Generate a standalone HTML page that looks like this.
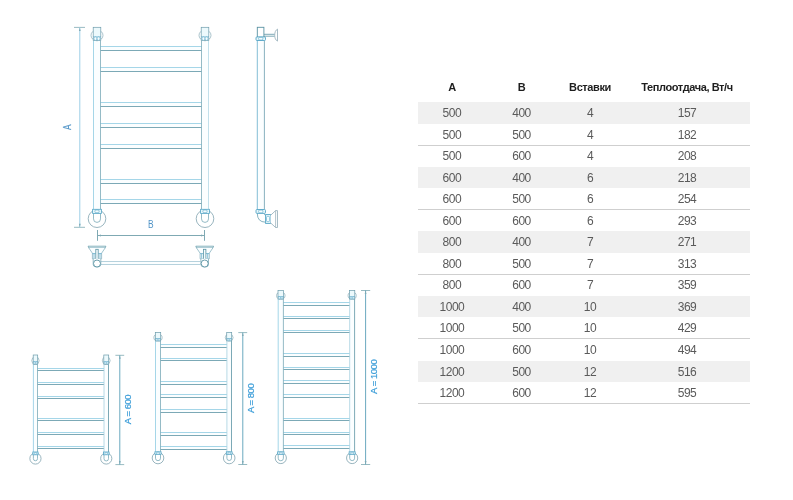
<!DOCTYPE html>
<html lang="ru">
<head>
<meta charset="utf-8">
<title>Размеры</title>
<style>
html,body{margin:0;padding:0;background:#fff;}
body{width:793px;height:500px;position:relative;overflow:hidden;font-family:"Liberation Sans",sans-serif;}
svg{position:absolute;left:0;top:0;will-change:transform;}
svg text{font-family:"Liberation Sans",sans-serif;}
.tb{position:absolute;left:418px;top:0;width:332px;height:500px;will-change:transform;}
.h{position:absolute;left:0;top:78px;width:332px;height:18px;line-height:18px;font-weight:bold;font-size:11px;color:#1e1e1e;letter-spacing:-0.4px;}
.r{position:absolute;left:0;width:332px;height:21.525px;line-height:21.525px;font-size:12px;color:#5a5a5a;letter-spacing:-0.45px;}
.g{background:#f0f0f0;}
.ln{position:absolute;left:0;width:332px;height:1px;background:#cfcfcf;}
.h span,.r span{position:absolute;top:0;text-align:center;white-space:nowrap;}
.r span{top:1px;}
.c1{left:-0.6px;width:69px;}
.c2{left:69px;width:69px;}
.c3{left:138px;width:68px;}
.c4{left:205.5px;width:127px;}
</style>
</head>
<body>
<svg width="793" height="500" viewBox="0 0 793 500">
<rect x="93.5" y="40.5" width="7" height="168.8" fill="#fbfeff" stroke="none"/>
<rect x="201.5" y="40.5" width="7" height="168.8" fill="#fbfeff" stroke="none"/>
<rect x="100.5" y="46.5" width="101" height="4" fill="#fbfeff" stroke="none"/>
<path d="M100.5 46.5 H201.5" stroke="#8ecbe2" stroke-width="0.8" fill="none"/>
<path d="M100.5 50.5 H201.5" stroke="#5a93a3" stroke-width="0.8" fill="none"/>
<rect x="100.5" y="67.5" width="101" height="4" fill="#fbfeff" stroke="none"/>
<path d="M100.5 67.5 H201.5" stroke="#8ecbe2" stroke-width="0.8" fill="none"/>
<path d="M100.5 71.5 H201.5" stroke="#5a93a3" stroke-width="0.8" fill="none"/>
<rect x="100.5" y="102.5" width="101" height="4" fill="#fbfeff" stroke="none"/>
<path d="M100.5 102.5 H201.5" stroke="#8ecbe2" stroke-width="0.8" fill="none"/>
<path d="M100.5 106.5 H201.5" stroke="#5a93a3" stroke-width="0.8" fill="none"/>
<rect x="100.5" y="123.5" width="101" height="4" fill="#fbfeff" stroke="none"/>
<path d="M100.5 123.5 H201.5" stroke="#8ecbe2" stroke-width="0.8" fill="none"/>
<path d="M100.5 127.5 H201.5" stroke="#5a93a3" stroke-width="0.8" fill="none"/>
<rect x="100.5" y="144.5" width="101" height="4" fill="#fbfeff" stroke="none"/>
<path d="M100.5 144.5 H201.5" stroke="#8ecbe2" stroke-width="0.8" fill="none"/>
<path d="M100.5 148.5 H201.5" stroke="#5a93a3" stroke-width="0.8" fill="none"/>
<rect x="100.5" y="179.5" width="101" height="4" fill="#fbfeff" stroke="none"/>
<path d="M100.5 179.5 H201.5" stroke="#8ecbe2" stroke-width="0.8" fill="none"/>
<path d="M100.5 183.5 H201.5" stroke="#5a93a3" stroke-width="0.8" fill="none"/>
<rect x="100.5" y="199.5" width="101" height="4" fill="#fbfeff" stroke="none"/>
<path d="M100.5 199.5 H201.5" stroke="#8ecbe2" stroke-width="0.8" fill="none"/>
<path d="M100.5 203.5 H201.5" stroke="#5a93a3" stroke-width="0.8" fill="none"/>
<path d="M93.5 40.5 V209.3" stroke="#8ecbe2" stroke-width="0.8" fill="none"/>
<path d="M100.5 40.5 V209.3" stroke="#7aa9b8" stroke-width="0.8" fill="none"/>
<path d="M201.5 40.5 V209.3" stroke="#7aa9b8" stroke-width="0.8" fill="none"/>
<path d="M208.5 40.5 V209.3" stroke="#b3d8e6" stroke-width="0.8" fill="none"/>
<ellipse cx="97" cy="35.35" rx="6" ry="5.41" fill="#fff" stroke="#86aab6" stroke-width="0.7"/>
<rect x="93.2" y="27.3" width="7.6" height="13.2" fill="#ecf9fc" stroke="#6d9cab" stroke-width="0.7"/>
<path d="M93 36.8 H101" fill="none" stroke="#55a5c6" stroke-width="0.6"/>
<ellipse cx="95.39" cy="38.65" rx="1.4" ry="1.75" fill="#f6fdff" stroke="#55a5c6" stroke-width="0.5"/>
<ellipse cx="98.61" cy="38.65" rx="1.4" ry="1.75" fill="#f6fdff" stroke="#55a5c6" stroke-width="0.5"/>
<ellipse cx="205" cy="35.35" rx="6" ry="5.41" fill="#fff" stroke="#86aab6" stroke-width="0.7"/>
<rect x="201.2" y="27.3" width="7.6" height="13.2" fill="#ecf9fc" stroke="#6d9cab" stroke-width="0.7"/>
<path d="M201 36.8 H209" fill="none" stroke="#55a5c6" stroke-width="0.6"/>
<ellipse cx="203.39" cy="38.65" rx="1.4" ry="1.75" fill="#f6fdff" stroke="#55a5c6" stroke-width="0.5"/>
<ellipse cx="206.61" cy="38.65" rx="1.4" ry="1.75" fill="#f6fdff" stroke="#55a5c6" stroke-width="0.5"/>
<circle cx="97" cy="218.7" r="8.8" fill="none" stroke="#86a8b4" stroke-width="0.85"/>
<path d="M93.5 213.4 V218.9 A3.5 3.5 0 0 0 100.5 218.9 V213.4" fill="#fff" stroke="#7aa9b8" stroke-width="0.8"/>
<rect x="92.6" y="209.3" width="8.8" height="4.1" fill="#e6f7fc" stroke="#55a5c6" stroke-width="0.8"/>
<rect x="94.9" y="210" width="4.2" height="2.7" rx="1" fill="#f4fcfe" stroke="#55a5c6" stroke-width="0.6"/>
<circle cx="205" cy="218.7" r="8.8" fill="none" stroke="#86a8b4" stroke-width="0.85"/>
<path d="M201.5 213.4 V218.9 A3.5 3.5 0 0 0 208.5 218.9 V213.4" fill="#fff" stroke="#7aa9b8" stroke-width="0.8"/>
<rect x="200.6" y="209.3" width="8.8" height="4.1" fill="#e6f7fc" stroke="#55a5c6" stroke-width="0.8"/>
<rect x="202.9" y="210" width="4.2" height="2.7" rx="1" fill="#f4fcfe" stroke="#55a5c6" stroke-width="0.6"/>
<path d="M74 27.4 H85 M74 227.3 H85" stroke="#7fa9b3" stroke-width="0.8" fill="none"/>
<path d="M79.8 27.4 V227.3" stroke="#93cbe4" stroke-width="0.9" fill="none"/>
<path d="M79.8 27.7 l-0.9 3.2 h1.8z M79.8 227 l-0.9 -3.2 h1.8z" fill="#7fa9b3" stroke="none"/>
<text transform="translate(71 127.1) rotate(-90) scale(0.82 1)" text-anchor="middle" font-size="10.3" letter-spacing="0" fill="#4f93c6" stroke="#4f93c6" stroke-width="0.2">A</text>
<path d="M97.5 230 V240.8 M204.5 230 V240.8" stroke="#7fa9b3" stroke-width="1" fill="none"/>
<path d="M97.5 235.5 H204.5" stroke="#7fa9b3" stroke-width="1" fill="none"/>
<path d="M97.8 235.5 l3.2 -0.9 v1.8z M204.2 235.5 l-3.2 -0.9 v1.8z" fill="#7fa9b3"/>
<text transform="translate(150.7 228.2) scale(0.82 1)" text-anchor="middle" font-size="10.3" fill="#4f93c6">B</text>
<rect x="100.8" y="261.5" width="100" height="3" fill="#fbfeff" stroke="none"/>
<path d="M100.8 261.5 H200.6 M100.8 264.5 H200.6" stroke="#a3c7d4" stroke-width="0.8" fill="none"/>
<path d="M88.1 246.2 H105.9 L105.2 247.9 H88.8 Z" fill="#f0fafd" stroke="#5a93a3" stroke-width="0.7"/>
<path d="M88.8 247.9 L92.4 253.2 V258.8 H101.6 V253.2 L105.2 247.9" fill="#fbfeff" stroke="#7aa9b8" stroke-width="0.7"/>
<path d="M92.4 253.6 H95.7 M98.3 253.6 H101.6 M94 253.6 V258.8 M100 253.6 V258.8" fill="none" stroke="#55a5c6" stroke-width="0.7"/>
<rect x="95.8" y="249.3" width="2.4" height="10.8" fill="#f4fcfe" stroke="#5a93a3" stroke-width="0.8"/>
<path d="M93.2 258.8 V264.5 Q93.4 266.8 95.5 266.8 H98.5 Q100.6 266.8 100.8 264.5 V258.8" fill="#fbfeff" stroke="#7aa9b8" stroke-width="0.8"/>
<circle cx="97" cy="263.5" r="3.5" fill="#fff" stroke="#5a93a3" stroke-width="0.9"/>
<path d="M195.8 246.2 H213.6 L212.9 247.9 H196.5 Z" fill="#f0fafd" stroke="#5a93a3" stroke-width="0.7"/>
<path d="M196.5 247.9 L200.1 253.2 V258.8 H209.3 V253.2 L212.9 247.9" fill="#fbfeff" stroke="#7aa9b8" stroke-width="0.7"/>
<path d="M200.1 253.6 H203.4 M206 253.6 H209.3 M201.7 253.6 V258.8 M207.7 253.6 V258.8" fill="none" stroke="#55a5c6" stroke-width="0.7"/>
<rect x="203.5" y="249.3" width="2.4" height="10.8" fill="#f4fcfe" stroke="#5a93a3" stroke-width="0.8"/>
<path d="M200.9 258.8 V264.5 Q201.1 266.8 203.2 266.8 H206.2 Q208.3 266.8 208.5 264.5 V258.8" fill="#fbfeff" stroke="#7aa9b8" stroke-width="0.8"/>
<circle cx="204.7" cy="263.5" r="3.5" fill="#fff" stroke="#5a93a3" stroke-width="0.9"/>
<rect x="257.3" y="40.5" width="7.1" height="169" fill="#fbfeff" stroke="none"/>
<path d="M257.3 40.5 V209.5" stroke="#55a5c6" stroke-width="0.9" fill="none" opacity="0.8"/>
<path d="M264.4 40.5 V209.5" stroke="#7aa9b8" stroke-width="0.9" fill="none"/>
<rect x="257.3" y="27.3" width="6.6" height="10" fill="#fff" stroke="#5a93a3" stroke-width="0.9"/>
<rect x="256" y="36.9" width="9.5" height="3.6" rx="1" fill="#e6f7fb" stroke="#55a5c6" stroke-width="0.9"/>
<rect x="258.6" y="37.4" width="4.3" height="2.6" rx="1" fill="#f6fdff" stroke="#55a5c6" stroke-width="0.6"/>
<path d="M264 34.3 H274.8 M264 36.2 H274.8" stroke="#5a93a3" stroke-width="0.8" fill="none"/>
<path d="M277.5 29.1 C275.6 30 274.7 32.5 274.7 35.2 C274.7 38 275.6 40.3 277.5 41.1 Z" fill="#fff" stroke="#9db4be" stroke-width="0.9"/>
<path d="M257.3 213.4 Q257.3 222 265.5 222.2 M264.4 213.4 Q264.4 215.2 265.6 215.4" fill="none" stroke="#7aa9b8" stroke-width="0.9"/>
<rect x="256" y="209.5" width="9.5" height="3.9" rx="1" fill="#e6f7fb" stroke="#55a5c6" stroke-width="0.9"/>
<rect x="258.6" y="210.1" width="4.3" height="2.7" rx="1" fill="#f6fdff" stroke="#55a5c6" stroke-width="0.6"/>
<rect x="265.6" y="214.6" width="4.9" height="8.8" fill="#e6f7fb" stroke="#55a5c6" stroke-width="0.9"/>
<rect x="266.5" y="216.4" width="3.1" height="5.2" rx="1" fill="#f6fdff" stroke="#55a5c6" stroke-width="0.6"/>
<path d="M270.5 215.4 L275.6 210.6 H277.5 V227.5 H275.6 L270.5 222.8" fill="#fff" stroke="#9db4be" stroke-width="0.9"/>
<path d="M275.6 210.6 V227.5" fill="none" stroke="#9db4be" stroke-width="0.8"/>
<rect x="33.4" y="364.2" width="4.1" height="87.8" fill="#fbfeff" stroke="none"/>
<rect x="104" y="364.2" width="4.5" height="87.8" fill="#fbfeff" stroke="none"/>
<rect x="37.5" y="368.5" width="66.5" height="2" fill="#fbfeff" stroke="none"/>
<path d="M37.5 368.5 H104" stroke="#8ecbe2" stroke-width="0.8" fill="none"/>
<path d="M37.5 370.5 H104" stroke="#5a93a3" stroke-width="0.8" fill="none"/>
<rect x="37.5" y="382.5" width="66.5" height="2" fill="#fbfeff" stroke="none"/>
<path d="M37.5 382.5 H104" stroke="#8ecbe2" stroke-width="0.8" fill="none"/>
<path d="M37.5 384.5 H104" stroke="#5a93a3" stroke-width="0.8" fill="none"/>
<rect x="37.5" y="396.5" width="66.5" height="2" fill="#fbfeff" stroke="none"/>
<path d="M37.5 396.5 H104" stroke="#8ecbe2" stroke-width="0.8" fill="none"/>
<path d="M37.5 398.5 H104" stroke="#5a93a3" stroke-width="0.8" fill="none"/>
<rect x="37.5" y="418.5" width="66.5" height="2" fill="#fbfeff" stroke="none"/>
<path d="M37.5 418.5 H104" stroke="#8ecbe2" stroke-width="0.8" fill="none"/>
<path d="M37.5 420.5 H104" stroke="#5a93a3" stroke-width="0.8" fill="none"/>
<rect x="37.5" y="432.5" width="66.5" height="2" fill="#fbfeff" stroke="none"/>
<path d="M37.5 432.5 H104" stroke="#8ecbe2" stroke-width="0.8" fill="none"/>
<path d="M37.5 434.5 H104" stroke="#5a93a3" stroke-width="0.8" fill="none"/>
<rect x="37.5" y="446.5" width="66.5" height="2" fill="#fbfeff" stroke="none"/>
<path d="M37.5 446.5 H104" stroke="#8ecbe2" stroke-width="0.8" fill="none"/>
<path d="M37.5 448.5 H104" stroke="#5a93a3" stroke-width="0.8" fill="none"/>
<path d="M33.4 364.2 V452" stroke="#8ecbe2" stroke-width="0.8" fill="none"/>
<path d="M37.5 364.2 V452" stroke="#7aa9b8" stroke-width="0.8" fill="none"/>
<path d="M104 364.2 V452" stroke="#a6d0e0" stroke-width="0.8" fill="none"/>
<path d="M108.5 364.2 V452" stroke="#5a93a3" stroke-width="0.8" fill="none"/>
<ellipse cx="35.45" cy="360.61" rx="3.68" ry="3.77" fill="#fff" stroke="#86aab6" stroke-width="0.7"/>
<rect x="33.2" y="355" width="4.49" height="9.2" fill="#ecf9fc" stroke="#6d9cab" stroke-width="0.7"/>
<path d="M33.07 361.62 H37.83" fill="none" stroke="#55a5c6" stroke-width="0.6"/>
<ellipse cx="34.51" cy="362.91" rx="0.82" ry="1.19" fill="#f6fdff" stroke="#55a5c6" stroke-width="0.5"/>
<ellipse cx="36.39" cy="362.91" rx="0.82" ry="1.19" fill="#f6fdff" stroke="#55a5c6" stroke-width="0.5"/>
<ellipse cx="106.25" cy="360.61" rx="3.88" ry="3.77" fill="#fff" stroke="#86aab6" stroke-width="0.7"/>
<rect x="103.81" y="355" width="4.89" height="9.2" fill="#ecf9fc" stroke="#6d9cab" stroke-width="0.7"/>
<path d="M103.67 361.62 H108.83" fill="none" stroke="#55a5c6" stroke-width="0.6"/>
<ellipse cx="105.22" cy="362.91" rx="0.9" ry="1.19" fill="#f6fdff" stroke="#55a5c6" stroke-width="0.5"/>
<ellipse cx="107.28" cy="362.91" rx="0.9" ry="1.19" fill="#f6fdff" stroke="#55a5c6" stroke-width="0.5"/>
<circle cx="35.45" cy="458.5" r="5.6" fill="none" stroke="#86a8b4" stroke-width="0.85"/>
<path d="M33.4 454.8 V458.7 A2.05 2.05 0 0 0 37.5 458.7 V454.8" fill="#fff" stroke="#7aa9b8" stroke-width="0.8"/>
<rect x="32.81" y="452" width="5.27" height="2.8" fill="#e6f7fc" stroke="#55a5c6" stroke-width="0.8"/>
<rect x="34.22" y="452.45" width="2.46" height="1.89" rx="0.65" fill="#f4fcfe" stroke="#55a5c6" stroke-width="0.6"/>
<circle cx="106.25" cy="458.5" r="5.6" fill="none" stroke="#86a8b4" stroke-width="0.85"/>
<path d="M104 454.8 V458.7 A2.25 2.25 0 0 0 108.5 458.7 V454.8" fill="#fff" stroke="#7aa9b8" stroke-width="0.8"/>
<rect x="103.42" y="452" width="5.67" height="2.8" fill="#e6f7fc" stroke="#55a5c6" stroke-width="0.8"/>
<rect x="104.9" y="452.45" width="2.7" height="1.89" rx="0.65" fill="#f4fcfe" stroke="#55a5c6" stroke-width="0.6"/>
<path d="M115.4 355.3 H124.2 M115.4 464.6 H124.2" stroke="#7fa9b3" stroke-width="0.8" fill="none"/>
<path d="M119.8 355.3 V464.6" stroke="#5a9fb8" stroke-width="0.9" fill="none"/>
<path d="M119.8 355.6 l-0.9 3.2 h1.8z M119.8 464.3 l-0.9 -3.2 h1.8z" fill="#7fa9b3" stroke="none"/>
<text transform="translate(130.6 409.5) rotate(-90) scale(1 1)" text-anchor="middle" font-size="9.5" letter-spacing="-0.45" fill="#3b9dd8" stroke="#3b9dd8" stroke-width="0.2">A = 600</text>
<rect x="155.5" y="340.9" width="5" height="110.9" fill="#fbfeff" stroke="none"/>
<rect x="226.9" y="340.9" width="4.6" height="110.9" fill="#fbfeff" stroke="none"/>
<rect x="160.5" y="344.5" width="66.4" height="3" fill="#fbfeff" stroke="none"/>
<path d="M160.5 344.5 H226.9" stroke="#8ecbe2" stroke-width="0.8" fill="none"/>
<path d="M160.5 347.5 H226.9" stroke="#5a93a3" stroke-width="0.8" fill="none"/>
<rect x="160.5" y="358.5" width="66.4" height="2" fill="#fbfeff" stroke="none"/>
<path d="M160.5 358.5 H226.9" stroke="#8ecbe2" stroke-width="0.8" fill="none"/>
<path d="M160.5 360.5 H226.9" stroke="#5a93a3" stroke-width="0.8" fill="none"/>
<rect x="160.5" y="381.5" width="66.4" height="3" fill="#fbfeff" stroke="none"/>
<path d="M160.5 381.5 H226.9" stroke="#8ecbe2" stroke-width="0.8" fill="none"/>
<path d="M160.5 384.5 H226.9" stroke="#5a93a3" stroke-width="0.8" fill="none"/>
<rect x="160.5" y="394.5" width="66.4" height="3" fill="#fbfeff" stroke="none"/>
<path d="M160.5 394.5 H226.9" stroke="#8ecbe2" stroke-width="0.8" fill="none"/>
<path d="M160.5 397.5 H226.9" stroke="#5a93a3" stroke-width="0.8" fill="none"/>
<rect x="160.5" y="409.5" width="66.4" height="3" fill="#fbfeff" stroke="none"/>
<path d="M160.5 409.5 H226.9" stroke="#8ecbe2" stroke-width="0.8" fill="none"/>
<path d="M160.5 412.5 H226.9" stroke="#5a93a3" stroke-width="0.8" fill="none"/>
<rect x="160.5" y="432.5" width="66.4" height="3" fill="#fbfeff" stroke="none"/>
<path d="M160.5 432.5 H226.9" stroke="#8ecbe2" stroke-width="0.8" fill="none"/>
<path d="M160.5 435.5 H226.9" stroke="#5a93a3" stroke-width="0.8" fill="none"/>
<rect x="160.5" y="446.5" width="66.4" height="3" fill="#fbfeff" stroke="none"/>
<path d="M160.5 446.5 H226.9" stroke="#8ecbe2" stroke-width="0.8" fill="none"/>
<path d="M160.5 449.5 H226.9" stroke="#5a93a3" stroke-width="0.8" fill="none"/>
<path d="M155.5 340.9 V451.8" stroke="#8ecbe2" stroke-width="0.8" fill="none"/>
<path d="M160.5 340.9 V451.8" stroke="#7aa9b8" stroke-width="0.8" fill="none"/>
<path d="M226.9 340.9 V451.8" stroke="#a6d0e0" stroke-width="0.8" fill="none"/>
<path d="M231.5 340.9 V451.8" stroke="#5a93a3" stroke-width="0.8" fill="none"/>
<ellipse cx="158" cy="337.62" rx="4.12" ry="3.44" fill="#fff" stroke="#86aab6" stroke-width="0.7"/>
<rect x="155.31" y="332.5" width="5.39" height="8.4" fill="#ecf9fc" stroke="#6d9cab" stroke-width="0.7"/>
<path d="M155.18 338.55 H160.82" fill="none" stroke="#55a5c6" stroke-width="0.6"/>
<ellipse cx="156.85" cy="339.72" rx="1" ry="1.08" fill="#f6fdff" stroke="#55a5c6" stroke-width="0.5"/>
<ellipse cx="159.15" cy="339.72" rx="1" ry="1.08" fill="#f6fdff" stroke="#55a5c6" stroke-width="0.5"/>
<ellipse cx="229.2" cy="337.62" rx="3.92" ry="3.44" fill="#fff" stroke="#86aab6" stroke-width="0.7"/>
<rect x="226.71" y="332.5" width="4.99" height="8.4" fill="#ecf9fc" stroke="#6d9cab" stroke-width="0.7"/>
<path d="M226.58 338.55 H231.82" fill="none" stroke="#55a5c6" stroke-width="0.6"/>
<ellipse cx="228.14" cy="339.72" rx="0.92" ry="1.08" fill="#f6fdff" stroke="#55a5c6" stroke-width="0.5"/>
<ellipse cx="230.26" cy="339.72" rx="0.92" ry="1.08" fill="#f6fdff" stroke="#55a5c6" stroke-width="0.5"/>
<circle cx="158" cy="458" r="5.8" fill="none" stroke="#86a8b4" stroke-width="0.85"/>
<path d="M155.5 454.6 V458.2 A2.5 2.5 0 0 0 160.5 458.2 V454.6" fill="#fff" stroke="#7aa9b8" stroke-width="0.8"/>
<rect x="154.91" y="451.8" width="6.17" height="2.8" fill="#e6f7fc" stroke="#55a5c6" stroke-width="0.8"/>
<rect x="156.5" y="452.25" width="3" height="1.89" rx="0.65" fill="#f4fcfe" stroke="#55a5c6" stroke-width="0.6"/>
<circle cx="229.2" cy="458" r="5.8" fill="none" stroke="#86a8b4" stroke-width="0.85"/>
<path d="M226.9 454.6 V458.2 A2.3 2.3 0 0 0 231.5 458.2 V454.6" fill="#fff" stroke="#7aa9b8" stroke-width="0.8"/>
<rect x="226.31" y="451.8" width="5.77" height="2.8" fill="#e6f7fc" stroke="#55a5c6" stroke-width="0.8"/>
<rect x="227.82" y="452.25" width="2.76" height="1.89" rx="0.65" fill="#f4fcfe" stroke="#55a5c6" stroke-width="0.6"/>
<path d="M238.3 332.6 H247.2 M238.3 464.5 H247.2" stroke="#7fa9b3" stroke-width="0.8" fill="none"/>
<path d="M242.8 332.6 V464.5" stroke="#5a9fb8" stroke-width="0.9" fill="none"/>
<path d="M242.8 332.9 l-0.9 3.2 h1.8z M242.8 464.2 l-0.9 -3.2 h1.8z" fill="#7fa9b3" stroke="none"/>
<text transform="translate(253.5 398.4) rotate(-90) scale(1 1)" text-anchor="middle" font-size="9.5" letter-spacing="-0.45" fill="#3b9dd8" stroke="#3b9dd8" stroke-width="0.2">A = 800</text>
<rect x="278.2" y="299" width="5.2" height="152.8" fill="#fbfeff" stroke="none"/>
<rect x="349.7" y="299" width="4.9" height="152.8" fill="#fbfeff" stroke="none"/>
<rect x="283.4" y="302.5" width="66.3" height="3" fill="#fbfeff" stroke="none"/>
<path d="M283.4 302.5 H349.7" stroke="#8ecbe2" stroke-width="0.8" fill="none"/>
<path d="M283.4 305.5 H349.7" stroke="#5a93a3" stroke-width="0.8" fill="none"/>
<rect x="283.4" y="316.5" width="66.3" height="2" fill="#fbfeff" stroke="none"/>
<path d="M283.4 316.5 H349.7" stroke="#8ecbe2" stroke-width="0.8" fill="none"/>
<path d="M283.4 318.5 H349.7" stroke="#5a93a3" stroke-width="0.8" fill="none"/>
<rect x="283.4" y="330.5" width="66.3" height="2" fill="#fbfeff" stroke="none"/>
<path d="M283.4 330.5 H349.7" stroke="#8ecbe2" stroke-width="0.8" fill="none"/>
<path d="M283.4 332.5 H349.7" stroke="#5a93a3" stroke-width="0.8" fill="none"/>
<rect x="283.4" y="353.5" width="66.3" height="3" fill="#fbfeff" stroke="none"/>
<path d="M283.4 353.5 H349.7" stroke="#8ecbe2" stroke-width="0.8" fill="none"/>
<path d="M283.4 356.5 H349.7" stroke="#5a93a3" stroke-width="0.8" fill="none"/>
<rect x="283.4" y="367.5" width="66.3" height="2" fill="#fbfeff" stroke="none"/>
<path d="M283.4 367.5 H349.7" stroke="#8ecbe2" stroke-width="0.8" fill="none"/>
<path d="M283.4 369.5 H349.7" stroke="#5a93a3" stroke-width="0.8" fill="none"/>
<rect x="283.4" y="380.5" width="66.3" height="3" fill="#fbfeff" stroke="none"/>
<path d="M283.4 380.5 H349.7" stroke="#8ecbe2" stroke-width="0.8" fill="none"/>
<path d="M283.4 383.5 H349.7" stroke="#5a93a3" stroke-width="0.8" fill="none"/>
<rect x="283.4" y="394.5" width="66.3" height="3" fill="#fbfeff" stroke="none"/>
<path d="M283.4 394.5 H349.7" stroke="#8ecbe2" stroke-width="0.8" fill="none"/>
<path d="M283.4 397.5 H349.7" stroke="#5a93a3" stroke-width="0.8" fill="none"/>
<rect x="283.4" y="418.5" width="66.3" height="2" fill="#fbfeff" stroke="none"/>
<path d="M283.4 418.5 H349.7" stroke="#8ecbe2" stroke-width="0.8" fill="none"/>
<path d="M283.4 420.5 H349.7" stroke="#5a93a3" stroke-width="0.8" fill="none"/>
<rect x="283.4" y="432.5" width="66.3" height="2" fill="#fbfeff" stroke="none"/>
<path d="M283.4 432.5 H349.7" stroke="#8ecbe2" stroke-width="0.8" fill="none"/>
<path d="M283.4 434.5 H349.7" stroke="#5a93a3" stroke-width="0.8" fill="none"/>
<rect x="283.4" y="445.5" width="66.3" height="3" fill="#fbfeff" stroke="none"/>
<path d="M283.4 445.5 H349.7" stroke="#8ecbe2" stroke-width="0.8" fill="none"/>
<path d="M283.4 448.5 H349.7" stroke="#5a93a3" stroke-width="0.8" fill="none"/>
<path d="M278.2 299 V451.8" stroke="#8ecbe2" stroke-width="0.8" fill="none"/>
<path d="M283.4 299 V451.8" stroke="#7aa9b8" stroke-width="0.8" fill="none"/>
<path d="M349.7 299 V451.8" stroke="#a6d0e0" stroke-width="0.8" fill="none"/>
<path d="M354.6 299 V451.8" stroke="#5a93a3" stroke-width="0.8" fill="none"/>
<ellipse cx="280.8" cy="295.65" rx="4.22" ry="3.53" fill="#fff" stroke="#86aab6" stroke-width="0.7"/>
<rect x="278" y="290.4" width="5.59" height="8.6" fill="#ecf9fc" stroke="#6d9cab" stroke-width="0.7"/>
<path d="M277.88 296.59 H283.72" fill="none" stroke="#55a5c6" stroke-width="0.6"/>
<ellipse cx="279.6" cy="297.8" rx="1.04" ry="1.1" fill="#f6fdff" stroke="#55a5c6" stroke-width="0.5"/>
<ellipse cx="282" cy="297.8" rx="1.04" ry="1.1" fill="#f6fdff" stroke="#55a5c6" stroke-width="0.5"/>
<ellipse cx="352.15" cy="295.65" rx="4.08" ry="3.53" fill="#fff" stroke="#86aab6" stroke-width="0.7"/>
<rect x="349.5" y="290.4" width="5.29" height="8.6" fill="#ecf9fc" stroke="#6d9cab" stroke-width="0.7"/>
<path d="M349.38 296.59 H354.93" fill="none" stroke="#55a5c6" stroke-width="0.6"/>
<ellipse cx="351.02" cy="297.8" rx="0.98" ry="1.1" fill="#f6fdff" stroke="#55a5c6" stroke-width="0.5"/>
<ellipse cx="353.28" cy="297.8" rx="0.98" ry="1.1" fill="#f6fdff" stroke="#55a5c6" stroke-width="0.5"/>
<circle cx="280.8" cy="458" r="5.6" fill="none" stroke="#86a8b4" stroke-width="0.85"/>
<path d="M278.2 454.6 V458.2 A2.6 2.6 0 0 0 283.4 458.2 V454.6" fill="#fff" stroke="#7aa9b8" stroke-width="0.8"/>
<rect x="277.62" y="451.8" width="6.37" height="2.8" fill="#e6f7fc" stroke="#55a5c6" stroke-width="0.8"/>
<rect x="279.24" y="452.25" width="3.12" height="1.89" rx="0.65" fill="#f4fcfe" stroke="#55a5c6" stroke-width="0.6"/>
<circle cx="352.15" cy="458" r="5.6" fill="none" stroke="#86a8b4" stroke-width="0.85"/>
<path d="M349.7 454.6 V458.2 A2.45 2.45 0 0 0 354.6 458.2 V454.6" fill="#fff" stroke="#7aa9b8" stroke-width="0.8"/>
<rect x="349.12" y="451.8" width="6.07" height="2.8" fill="#e6f7fc" stroke="#55a5c6" stroke-width="0.8"/>
<rect x="350.68" y="452.25" width="2.94" height="1.89" rx="0.65" fill="#f4fcfe" stroke="#55a5c6" stroke-width="0.6"/>
<path d="M361 290.5 H370.2 M361 464.5 H370.2" stroke="#7fa9b3" stroke-width="0.8" fill="none"/>
<path d="M365.6 290.5 V464.5" stroke="#5a9fb8" stroke-width="0.9" fill="none"/>
<path d="M365.6 290.8 l-0.9 3.2 h1.8z M365.6 464.2 l-0.9 -3.2 h1.8z" fill="#7fa9b3" stroke="none"/>
<text transform="translate(376.8 376.8) rotate(-90) scale(1 1)" text-anchor="middle" font-size="9.5" letter-spacing="-0.45" fill="#3b9dd8" stroke="#3b9dd8" stroke-width="0.2">A = 1000</text>
</svg>
<div class="tb">
<div class="h"><span class="c1">A</span><span class="c2">B</span><span class="c3">Вставки</span><span class="c4">Теплоотдача, Вт/ч</span></div>
<div class="r g" style="top:102.20px"><span class="c1">500</span><span class="c2">400</span><span class="c3">4</span><span class="c4">157</span></div>
<div class="r" style="top:123.72px"><span class="c1">500</span><span class="c2">500</span><span class="c3">4</span><span class="c4">182</span></div>
<div class="ln" style="top:144.75px"></div>
<div class="r" style="top:145.25px"><span class="c1">500</span><span class="c2">600</span><span class="c3">4</span><span class="c4">208</span></div>
<div class="r g" style="top:166.77px"><span class="c1">600</span><span class="c2">400</span><span class="c3">6</span><span class="c4">218</span></div>
<div class="r" style="top:188.30px"><span class="c1">600</span><span class="c2">500</span><span class="c3">6</span><span class="c4">254</span></div>
<div class="ln" style="top:209.33px"></div>
<div class="r" style="top:209.82px"><span class="c1">600</span><span class="c2">600</span><span class="c3">6</span><span class="c4">293</span></div>
<div class="r g" style="top:231.35px"><span class="c1">800</span><span class="c2">400</span><span class="c3">7</span><span class="c4">271</span></div>
<div class="r" style="top:252.88px"><span class="c1">800</span><span class="c2">500</span><span class="c3">7</span><span class="c4">313</span></div>
<div class="ln" style="top:273.90px"></div>
<div class="r" style="top:274.40px"><span class="c1">800</span><span class="c2">600</span><span class="c3">7</span><span class="c4">359</span></div>
<div class="r g" style="top:295.93px"><span class="c1">1000</span><span class="c2">400</span><span class="c3">10</span><span class="c4">369</span></div>
<div class="r" style="top:317.45px"><span class="c1">1000</span><span class="c2">500</span><span class="c3">10</span><span class="c4">429</span></div>
<div class="ln" style="top:338.47px"></div>
<div class="r" style="top:338.97px"><span class="c1">1000</span><span class="c2">600</span><span class="c3">10</span><span class="c4">494</span></div>
<div class="r g" style="top:360.50px"><span class="c1">1200</span><span class="c2">500</span><span class="c3">12</span><span class="c4">516</span></div>
<div class="r" style="top:382.02px"><span class="c1">1200</span><span class="c2">600</span><span class="c3">12</span><span class="c4">595</span></div>
<div class="ln" style="top:403.05px"></div>
</div>
</body>
</html>
